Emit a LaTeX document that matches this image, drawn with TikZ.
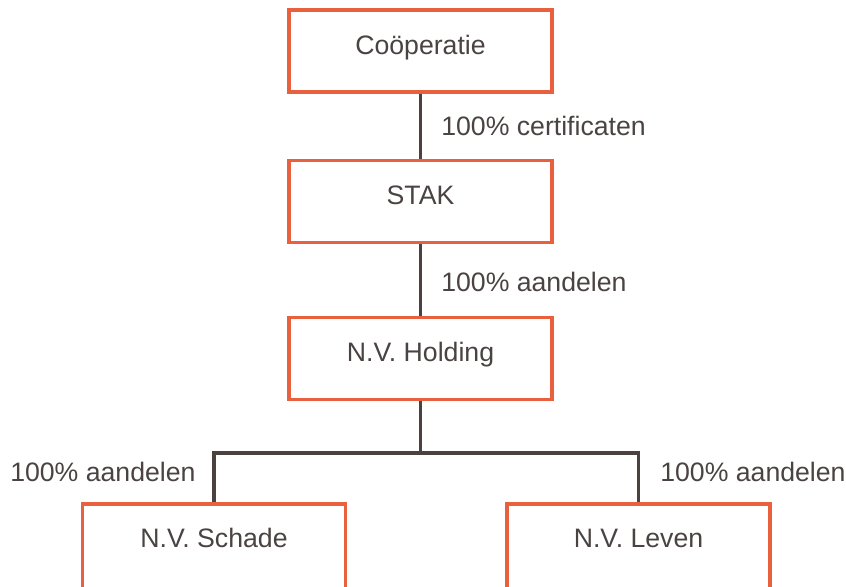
\documentclass[tikz,border=0pt]{standalone}
\usepackage{fontspec}
\setmainfont{Liberation Sans}
\usepackage{xcolor}
\usepackage{tikz}

\definecolor{boxrand}{HTML}{E9603F}
\definecolor{lijn}{HTML}{4B423F}
\definecolor{tekst}{HTML}{4A4342}

\tikzset{
    entiteit/.style={draw=boxrand, line width=2.6pt, fill=white, text=tekst,
        minimum width=197pt, minimum height=61.5pt, inner sep=0pt,
        text height=14pt, text depth=9pt, font=\fontsize{20}{24}\selectfont},
    dochter/.style={entiteit, minimum height=72pt, text depth=20.75pt},
    belang/.style={text=tekst, inner sep=0pt, font=\fontsize{20}{24}\selectfont},
    verbinding/.style={draw=lijn, line width=2.5pt}
}

\begin{document}
\begin{tikzpicture}[x=0.75pt, y=-0.75pt]
        \useasboundingbox (0, 0) rectangle (846, 586);

        \node[entiteit] (coop) at (420.5, 51) {Coöperatie};
        \node[entiteit] (stak) at (420.5, 201.5) {STAK};
        \node[entiteit] (holding) at (420.5, 358.5) {N.V. Holding};
        \node[dochter] (schade) at (214, 552) {N.V. Schade};
        \node[dochter] (leven) at (638.5, 552) {N.V. Leven};

        \coordinate (splits) at (420.5, 453);

        \draw[verbinding] (coop) -- (stak);
        \draw[verbinding] (stak) -- (holding);
        \draw[verbinding] (holding) -- (splits);
        \draw[verbinding] (schade.north) |- (splits) -| (leven.north);

        \node[belang, anchor=west] (certificaten) at (441, 126) {100\% certificaten};
        \node[belang, anchor=west] (aandelenstak) at (441, 282) {100\% aandelen};
        \node[belang, anchor=west] (aandelenschade) at (10, 472) {100\% aandelen};
        \node[belang, anchor=west] (aandelenleven) at (660, 472) {100\% aandelen};
    \end{tikzpicture}
\end{document}
